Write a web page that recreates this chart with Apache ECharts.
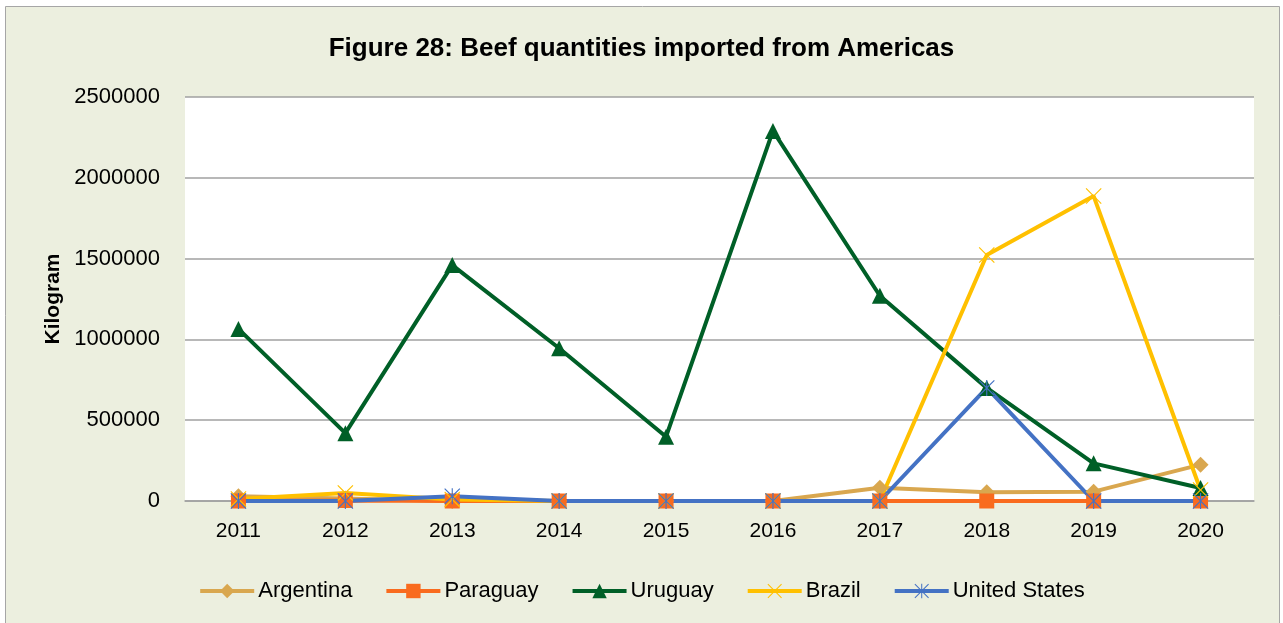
<!DOCTYPE html>
<html>
<head>
<meta charset="utf-8">
<title>Beef quantities imported from Americas</title>
<script src="https://cdn.jsdelivr.net/npm/echarts@6/dist/echarts.min.js"></script>
<style>
  html, body { margin: 0; padding: 0; background: #fff; }
  #chart { width: 1283px; height: 623px; }
</style>
</head>
<body>
<div id="chart"></div>
<script>
const years = ['2011', '2012', '2013', '2014', '2015', '2016', '2017', '2018', '2019', '2020'];
const argentina = [30000, 15000, 0, 0, 0, 0, 82000, 54000, 58000, 225000];
const paraguay = [0, 3000, 0, 0, 0, 0, 0, 0, 0, 0];
const uruguay = [1065000, 420000, 1460000, 945000, 398000, 2290000, 1270000, 700000, 233000, 80000];
const brazil = [12000, 50000, 10000, 0, 0, 0, 0, 1522000, 1887000, 68000];
const unitedStates = [0, 0, 30000, 0, 0, 0, 0, 700000, 0, 0];

const FONT = "'Liberation Sans', Arial, sans-serif";
const crossPath = 'path://M0,1 L1,0 L10,9 L19,0 L20,1 L11,10 L20,19 L19,20 L10,11 L1,20 L0,19 L9,10 Z';
const starPath = crossPath.replace(' Z', ' Z M9.3,0 L10.7,0 L10.7,20 L9.3,20 Z');

// one line series per country
const makeSeries = (name, data, color, symbol, size) => ({
    name: name,
    type: 'line',
    data: data,
    symbol: symbol,
    symbolSize: size,
    showSymbol: true,
    lineStyle: { color: color, width: 4 },
    itemStyle: { color: color },
    emphasis: { disabled: true },
});

const myChart = echarts.init(document.getElementById('chart'));
const option = {
    animation: false,
    textStyle: { fontFamily: FONT },
    graphic: [{
        type: 'rect',
        z: -100,
        silent: true,
        shape: { x: 5.5, y: 6.5, width: 1274, height: 620 },
        style: { fill: '#ECEFDF', stroke: '#A6A6A6', lineWidth: 1 },
    }],
    title: {
        text: 'Figure 28: Beef quantities imported from Americas',
        left: 'center',
        top: 31,
        textStyle: { fontFamily: FONT, fontSize: 26, fontWeight: 'bold', color: '#000' },
    },
    legend: {
        bottom: 16,
        left: 'center',
        itemWidth: 54,
        itemHeight: 18,
        itemGap: 32,
        lineStyle: { width: 4 },
        textStyle: { fontFamily: FONT, fontSize: 22, color: '#000', padding: [0, 0, 0, -1] },
    },
    grid: {
        left: 185, right: 29, top: 97, bottom: 122,
        show: true, backgroundColor: '#fff', borderWidth: 0,
    },
    xAxis: {
        type: 'category',
        data: years,
        boundaryGap: true,
        axisLine: { lineStyle: { color: '#A0A0A0', width: 1.5 } },
        axisTick: { show: false },
        axisLabel: { color: '#000', fontSize: 21, margin: 20, fontFamily: FONT },
    },
    yAxis: {
        type: 'value',
        min: 0,
        max: 2500000,
        interval: 500000,
        name: 'Kilogram',
        nameLocation: 'middle',
        nameGap: 118,
        nameTextStyle: { fontFamily: FONT, fontSize: 21, fontWeight: 'bold', color: '#000' },
        axisLine: { show: false },
        axisTick: { show: false },
        axisLabel: {
            color: '#000', fontSize: 22, margin: 25, fontFamily: FONT,
            formatter: (v) => String(v),
        },
        splitLine: { lineStyle: { color: '#A0A0A0', width: 1.5 } },
    },
    series: [
        makeSeries('Argentina', argentina, '#D9A74F', 'diamond', 16),
        makeSeries('Paraguay', paraguay, '#F96B1E', 'rect', 15),
        makeSeries('Uruguay', uruguay, '#005F27', 'triangle', 16),
        makeSeries('Brazil', brazil, '#FFC000', crossPath, 16),
        makeSeries('United States', unitedStates, '#4472C4', starPath, 16),
    ],
};
myChart.setOption(option);
</script>
</body>
</html>
